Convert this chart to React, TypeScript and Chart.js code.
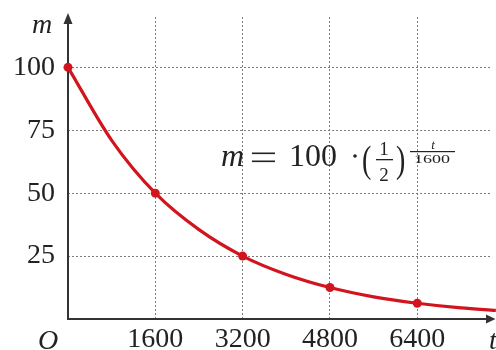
import { useEffect, useRef } from 'react';
import { Chart, registerables } from 'chart.js';

Chart.register(...registerables);

// Curve samples
const curveT = [0, 800, 1600, 2400, 3200, 4000, 4800, 5600, 6400, 7200, 7840];
const curveM = [100, 71, 50, 35.5, 25, 17.7, 12.5, 8.8, 6.25, 4.4, 3.4];
// Marked points
const markerT = [0, 1600, 3200, 4800, 6400];
const markerM = [100, 50, 25, 12.5, 6.25];
// Tick labels
const xTicks = [1600, 3200, 4800, 6400];
const yTicks = [25, 50, 75, 100];

const RED = '#d2141e';
const AXIS = '#333333';
const SERIF = '"Liberation Serif", "DejaVu Serif", serif';

const decor = {
  id: 'decor',
  beforeDatasetsDraw(chart: any) {
    const { ctx, chartArea } = chart;
    const { left, top, bottom } = chartArea;
    const right = chart.width;
    ctx.save();
    ctx.strokeStyle = AXIS;
    ctx.fillStyle = AXIS;
    ctx.lineWidth = 2;
    // y axis
    ctx.beginPath();
    ctx.moveTo(left, bottom + 1);
    ctx.lineTo(left, top + 2);
    ctx.stroke();
    ctx.beginPath();
    ctx.moveTo(left, top - 4);
    ctx.lineTo(left - 4.5, top + 7);
    ctx.lineTo(left + 4.5, top + 7);
    ctx.closePath();
    ctx.fill();
    // x axis
    ctx.beginPath();
    ctx.moveTo(left - 1, bottom);
    ctx.lineTo(right - 5, bottom);
    ctx.stroke();
    ctx.beginPath();
    ctx.moveTo(right - 0.5, bottom);
    ctx.lineTo(right - 10, bottom - 4.5);
    ctx.lineTo(right - 10, bottom + 4.5);
    ctx.closePath();
    ctx.fill();
    ctx.restore();
  },
  afterDraw(chart: any) {
    const { ctx } = chart;
    ctx.save();
    ctx.fillStyle = '#222';
    ctx.textBaseline = 'alphabetic';
    ctx.textAlign = 'left';
    // axis labels
    ctx.font = `italic 28px ${SERIF}`;
    ctx.fillText('m', 32, 33);
    ctx.fillText('O', 38, 349);
    ctx.fillText('t', 489, 349);
    // formula
    ctx.font = `italic 32px ${SERIF}`;
    ctx.fillText('m', 221, 166);
    // equals sign
    ctx.fillRect(252, 152.5, 23, 1.6);
    ctx.fillRect(252, 160.5, 23, 1.6);
    ctx.font = `32px ${SERIF}`;
    ctx.fillText('100', 289, 166);
    ctx.beginPath();
    ctx.arc(355, 156, 1.8, 0, Math.PI * 2);
    ctx.fill();
    // parentheses
    ctx.save();
    ctx.translate(362, 172);
    ctx.scale(1, 1.35);
    ctx.font = `28px ${SERIF}`;
    ctx.fillText('(', 0, 0);
    ctx.fillText(')', 34, 0);
    ctx.restore();
    // 1/2
    ctx.font = `19px ${SERIF}`;
    ctx.textAlign = 'center';
    ctx.fillText('1', 384, 155);
    ctx.fillText('2', 384, 181);
    ctx.fillRect(376, 159, 17, 1.3);
    // exponent t/1600
    ctx.font = `italic 13px ${SERIF}`;
    ctx.fillText('t', 433, 149);
    ctx.fillRect(410, 151, 45, 1.2);
    ctx.save();
    ctx.translate(432, 163);
    ctx.scale(1.5, 1);
    ctx.font = `12px ${SERIF}`;
    ctx.fillText('1600', 0, 0);
    ctx.restore();
    ctx.restore();
  },
};

export default function App() {
  const ref = useRef<HTMLCanvasElement>(null);
  useEffect(() => {
    if (!ref.current) return;
    const chart = new Chart(ref.current, {
      type: 'scatter',
      data: {
        datasets: [
          {
            data: curveT.map((t, i) => ({ x: t, y: curveM[i] })),
            showLine: true,
            borderColor: RED,
            borderWidth: 3.2,
            pointRadius: 0,
            cubicInterpolationMode: 'monotone',
            clip: false,
          } as any,
          {
            data: markerT.map((t, i) => ({ x: t, y: markerM[i] })),
            showLine: false,
            backgroundColor: RED,
            borderColor: RED,
            pointRadius: 4.5,
            pointBorderWidth: 0,
            clip: false,
          } as any,
        ],
      },
      options: {
        animation: false,
        responsive: false,
        layout: { padding: { top: 17, right: 0, left: 0, bottom: 0 } },
        plugins: { legend: { display: false }, tooltip: { enabled: false } },
        scales: {
          x: {
            type: 'linear',
            min: 0,
            max: 7760,
            afterBuildTicks: (s: any) => {
              s.ticks = xTicks.map((v) => ({ value: v }));
            },
            afterFit: (s: any) => {
              s.height = 31;
              s.paddingLeft = 0;
              s.paddingRight = 0;
            },
            grid: { color: 'rgba(110,110,110,0.9)', lineWidth: 1, drawTicks: false },
            border: { display: false, dash: [2, 2] },
            ticks: {
              padding: 4,
              color: '#222',
              font: { family: SERIF, size: 28 },
              maxRotation: 0,
              autoSkip: false,
              callback: (v: any) => String(v),
            },
          },
          y: {
            type: 'linear',
            min: 0,
            max: 120,
            afterBuildTicks: (s: any) => {
              s.ticks = yTicks.map((v) => ({ value: v }));
            },
            afterFit: (s: any) => {
              s.width = 68;
              s.paddingTop = 0;
              s.paddingBottom = 0;
            },
            grid: { color: 'rgba(110,110,110,0.9)', lineWidth: 1, drawTicks: false },
            border: { display: false, dash: [2, 2] },
            ticks: {
              padding: 13,
              color: '#222',
              font: { family: SERIF, size: 28 },
              callback: (v: any) => String(v),
            },
          },
        },
      },
      plugins: [decor],
    });
    return () => chart.destroy();
  }, []);
  return (
    <div style={{ position: 'fixed', left: 0, top: 0, width: 496, height: 350, background: '#fff' }}>
      <canvas ref={ref} width={496} height={350} style={{ display: 'block' }} />
    </div>
  );
}
